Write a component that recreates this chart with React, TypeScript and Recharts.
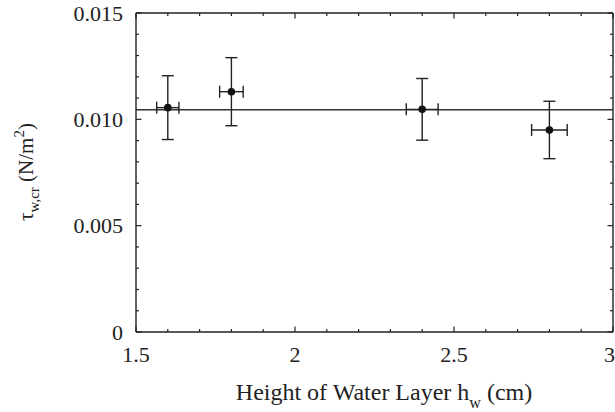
import React from "react";
import {
  ScatterChart,
  Scatter,
  XAxis,
  YAxis,
  ErrorBar,
  ReferenceLine,
} from "recharts";

// Measured critical wall shear stress against water-layer height
const heights = [1.6, 1.8, 2.4, 2.8];
const heightErr = [0.035, 0.037, 0.05, 0.056];
const tauCr = [0.01055, 0.0113, 0.01047, 0.0095];
const tauErr = [0.0015, 0.0016, 0.00145, 0.00135];
const tauMean = 0.01045;

// Axis ticks (minor every 0.1 cm / 0.001 N/m², labelled majors)
const xTicks = [1.5, 1.6, 1.7, 1.8, 1.9, 2.0, 2.1, 2.2, 2.3, 2.4, 2.5, 2.6, 2.7, 2.8, 2.9, 3.0];
const xMajor = [1.5, 2, 2.5, 3];
const yTicks = [
  0, 0.001, 0.002, 0.003, 0.004, 0.005, 0.006, 0.007, 0.008, 0.009, 0.01, 0.011,
  0.012, 0.013, 0.014, 0.015,
];
const yMajor = [0, 0.005, 0.01, 0.015];

const data = heights.map((h, i) => ({
  x: h,
  y: tauCr[i],
  ex: heightErr[i],
  ey: tauErr[i],
}));

// Layout
const W = 615;
const H = 412;
const PLOT_LEFT = 136;
const PLOT_TOP = 13;
const PLOT_RIGHT = 613;
const PLOT_BOTTOM = 332;
const Y_AXIS_W = 80;
const X_TICK_MARGIN = 14;
const Y_TICK_MARGIN = 13;
const INK = "#222";
const FONT =
  "'Liberation Serif', 'Times New Roman', Times, Tinos, 'DejaVu Serif', 'Noto Serif', serif";
const textStyle = { fontFamily: FONT };

const isMajor = (list: number[], v: number) => list.some((m) => Math.abs(m - v) < 1e-9);

const BottomTick = (props: any) => {
  const { x, y, payload } = props;
  const v = payload.value as number;
  const major = isMajor(xMajor, v);
  const len = major ? 5.5 : 3;
  const axisY = y - X_TICK_MARGIN;
  // the last label sits against the right edge of the figure
  const last = Math.abs(v - 3) < 1e-9;
  return (
    <g>
      <line x1={x} x2={x} y1={axisY} y2={axisY - len} stroke={INK} strokeWidth={1.2} />
      <line x1={x} x2={x} y1={PLOT_TOP} y2={PLOT_TOP + len} stroke={INK} strokeWidth={1.2} />
      {major && (
        <text
          x={last ? W : x}
          y={y}
          dy="0.71em"
          textAnchor={last ? "end" : "middle"}
          fontSize={22}
          fill={INK}
          style={textStyle}
        >
          {String(v)}
        </text>
      )}
    </g>
  );
};

const LeftTick = (props: any) => {
  const { x, y, payload } = props;
  const v = payload.value as number;
  const major = isMajor(yMajor, v);
  const len = major ? 5.5 : 3;
  const axisX = x + Y_TICK_MARGIN;
  return (
    <g>
      <line x1={axisX} x2={axisX + len} y1={y} y2={y} stroke={INK} strokeWidth={1.2} />
      <line x1={PLOT_RIGHT} x2={PLOT_RIGHT - len} y1={y} y2={y} stroke={INK} strokeWidth={1.2} />
      {major && (
        <text x={x} y={y} dy="0.355em" textAnchor="end" fontSize={22} fill={INK} style={textStyle}>
          {v === 0 ? "0" : v.toFixed(3)}
        </text>
      )}
    </g>
  );
};

const XTitle = () => (
  <text x={384} y={400} textAnchor="middle" fontSize={24} fill={INK} style={textStyle}>
    Height of Water Layer h
    <tspan dy={8} fontSize={16}>w</tspan>
    <tspan dy={-8}> (cm)</tspan>
  </text>
);

const YTitle = () => {
  const cx = 33;
  const cy = 172;
  return (
    <text
      x={cx}
      y={cy}
      transform={`rotate(-90, ${cx}, ${cy})`}
      textAnchor="middle"
      fontSize={21}
      fill={INK}
      style={textStyle}
    >
      τ
      <tspan dy={6} fontSize={15}>w,cr</tspan>
      <tspan dy={-6}> (N/m</tspan>
      <tspan dy={-9} fontSize={15}>2</tspan>
      <tspan dy={9}>)</tspan>
    </text>
  );
};

const Dot = (p: any) => <circle cx={p.cx} cy={p.cy} r={3.8} fill="#111" />;

export default function App() {
  return (
    <div style={{ position: "absolute", left: 0, top: 0, background: "#fff", fontFamily: FONT }}>
      <ScatterChart
        width={W}
        height={H}
        style={{ fontFamily: FONT }}
        margin={{
          top: PLOT_TOP,
          right: W - PLOT_RIGHT,
          bottom: 0,
          left: PLOT_LEFT - Y_AXIS_W,
        }}
      >
        <XAxis
          type="number"
          dataKey="x"
          domain={[1.5, 3]}
          ticks={xTicks}
          interval={0}
          tickSize={0}
          tickMargin={X_TICK_MARGIN}
          tickLine={false}
          tick={<BottomTick />}
          axisLine={{ stroke: INK, strokeWidth: 1.4 }}
          height={H - PLOT_BOTTOM}
          label={<XTitle />}
        />
        <YAxis
          type="number"
          dataKey="y"
          domain={[0, 0.015]}
          ticks={yTicks}
          interval={0}
          tickSize={0}
          tickMargin={Y_TICK_MARGIN}
          tickLine={false}
          tick={<LeftTick />}
          axisLine={{ stroke: INK, strokeWidth: 1.4 }}
          width={Y_AXIS_W}
          label={<YTitle />}
        />
        <ReferenceLine y={0.015} stroke={INK} strokeWidth={1.4} />
        <ReferenceLine x={3} stroke={INK} strokeWidth={1.4} />
        <ReferenceLine y={tauMean} stroke="#333" strokeWidth={1.7} />
        <Scatter data={data} shape={Dot} isAnimationActive={false}>
          <ErrorBar dataKey="ey" direction="y" width={6} stroke={INK} strokeWidth={1.4} isAnimationActive={false} />
          <ErrorBar dataKey="ex" direction="x" width={6} stroke={INK} strokeWidth={1.4} isAnimationActive={false} />
        </Scatter>
      </ScatterChart>
    </div>
  );
}
